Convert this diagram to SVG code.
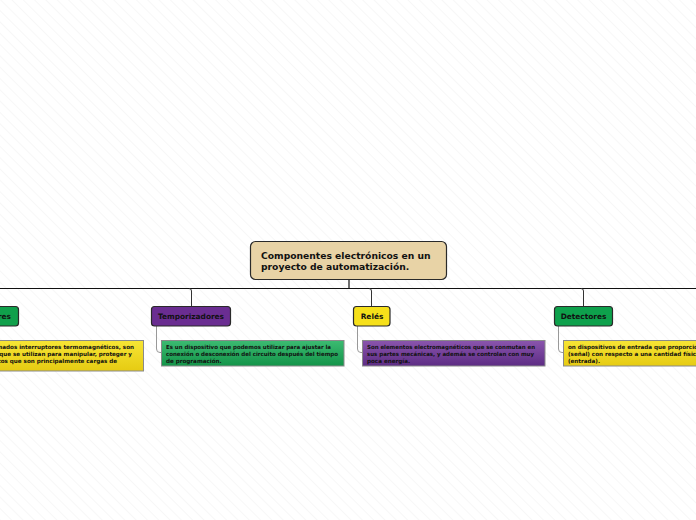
<svg xmlns="http://www.w3.org/2000/svg" width="696" height="520" viewBox="0 0 696 520">
<defs>
<pattern id="hatch" width="8" height="8" patternUnits="userSpaceOnUse" patternTransform="rotate(-45)">
<line x1="0" y1="0" x2="0" y2="8" stroke="#f0f0f0" stroke-width="1"/>
</pattern>
<linearGradient id="gGreen" x1="0" y1="0" x2="0" y2="1"><stop offset="0" stop-color="#3cbb72"/><stop offset="1" stop-color="#139449"/></linearGradient>
<linearGradient id="gPurple" x1="0" y1="0" x2="0" y2="1"><stop offset="0" stop-color="#8a55ad"/><stop offset="1" stop-color="#5d2c84"/></linearGradient>
<linearGradient id="gYellow" x1="0" y1="0" x2="0" y2="1"><stop offset="0" stop-color="#f7e535"/><stop offset="1" stop-color="#e6cb12"/></linearGradient>
</defs>
<style>
.node{stroke:#2a2a2a;stroke-width:1.2}
.lbl{font-family:"DejaVu Sans",Verdana,sans-serif;font-weight:bold;fill:#111}
.t{font-family:"DejaVu Sans",Verdana,sans-serif;font-weight:bold;font-size:5.6px;fill:#111}
.sub{stroke:#8a8a8a;stroke-width:1}
.main{fill:none;stroke:#111;stroke-width:1.2}
.br{fill:none;stroke:#333;stroke-width:1}
.sc{fill:none;stroke:#999;stroke-width:1}
</style>
<rect width="696" height="520" fill="#ffffff"/>
<rect width="696" height="520" fill="url(#hatch)"/>

<g id="connectors">
<line class="main" x1="0" y1="288.5" x2="696" y2="288.5"/>
<line class="main" x1="349" y1="280" x2="349" y2="288.5"/>
<path class="br" d="M189 288.5 Q191.5 288.5 191.5 291 V306"/>
<path class="br" d="M369 288.5 Q371.5 288.5 371.5 291 V306"/>
<path class="br" d="M581 288.5 Q583.5 288.5 583.5 291 V306"/>
<path class="sc" d="M156.5 326 V349 Q156.5 352.5 160 352.5 H161"/>
<path class="sc" d="M357.5 326 V349 Q357.5 352.5 361 352.5 H362"/>
<path class="sc" d="M558.5 326 V349 Q558.5 352.5 562 352.5 H563"/>
</g>

<g id="central">
<rect class="node" x="250.5" y="241.5" width="196" height="38" rx="5" fill="#e8d3a6"/>
<text class="lbl" font-size="9.2" x="261" y="259">Componentes electrónicos en un</text>
<text class="lbl" font-size="9.2" x="261" y="270">proyecto de automatización.</text>
</g>

<g id="n-left">
<rect class="node" x="-10" y="306.5" width="28.5" height="19.5" rx="3" fill="#10a04b"/>
<text class="lbl" font-size="7.4" x="11" y="319" text-anchor="end">res</text>
</g>
<g id="d-left">
<rect class="sub" x="-10" y="340.5" width="153.5" height="30.5" fill="url(#gYellow)"/>
<text class="t" x="134" y="349" text-anchor="end">mados interruptores termomagnéticos, son</text>
<text class="t" x="132" y="356" text-anchor="end">que se utilizan para manipular, proteger y</text>
<text class="t" x="117" y="363" text-anchor="end">itos que son principalmente cargas de</text>
</g>

<g id="n-temporizadores">
<rect class="node" x="151.5" y="306.5" width="79" height="19.5" rx="3" fill="#6a2d91"/>
<text class="lbl" font-size="7.4" x="191" y="319" text-anchor="middle">Temporizadores</text>
</g>
<g id="d-temporizadores">
<rect class="sub" x="161.5" y="340.5" width="182.5" height="25.5" fill="url(#gGreen)"/>
<text class="t" x="166" y="349" textLength="165" lengthAdjust="spacingAndGlyphs">Es un dispositivo que podemos utilizar para ajustar la</text>
<text class="t" x="166" y="356" textLength="172" lengthAdjust="spacingAndGlyphs">conexión o desconexión del circuito después del tiempo</text>
<text class="t" x="166" y="363">de programación.</text>
</g>

<g id="n-reles">
<rect class="node" x="353.5" y="306.5" width="36.5" height="19.5" rx="3" fill="#f6e01a"/>
<text class="lbl" font-size="7.4" x="372" y="319" text-anchor="middle">Relés</text>
</g>
<g id="d-reles">
<rect class="sub" x="362.5" y="340.5" width="182.5" height="25.5" fill="url(#gPurple)"/>
<text class="t" x="367" y="349" textLength="168" lengthAdjust="spacingAndGlyphs">Son elementos electromagnéticos que se conmutan en</text>
<text class="t" x="367" y="356" textLength="167" lengthAdjust="spacingAndGlyphs">sus partes mecánicas, y además se controlan con muy</text>
<text class="t" x="367" y="363">poca energía.</text>
</g>

<g id="n-detectores">
<rect class="node" x="554.5" y="306.5" width="58" height="19.5" rx="3" fill="#0ea14c"/>
<text class="lbl" font-size="7.4" x="583.5" y="319" text-anchor="middle">Detectores</text>
</g>
<g id="d-detectores">
<rect class="sub" x="563.5" y="340.5" width="150" height="25.5" fill="url(#gYellow)"/>
<text class="t" x="568" y="349">on dispositivos de entrada que proporcion</text>
<text class="t" x="568" y="356">(señal) con respecto a una cantidad física</text>
<text class="t" x="568" y="363">(entrada).</text>
</g>
</svg>
